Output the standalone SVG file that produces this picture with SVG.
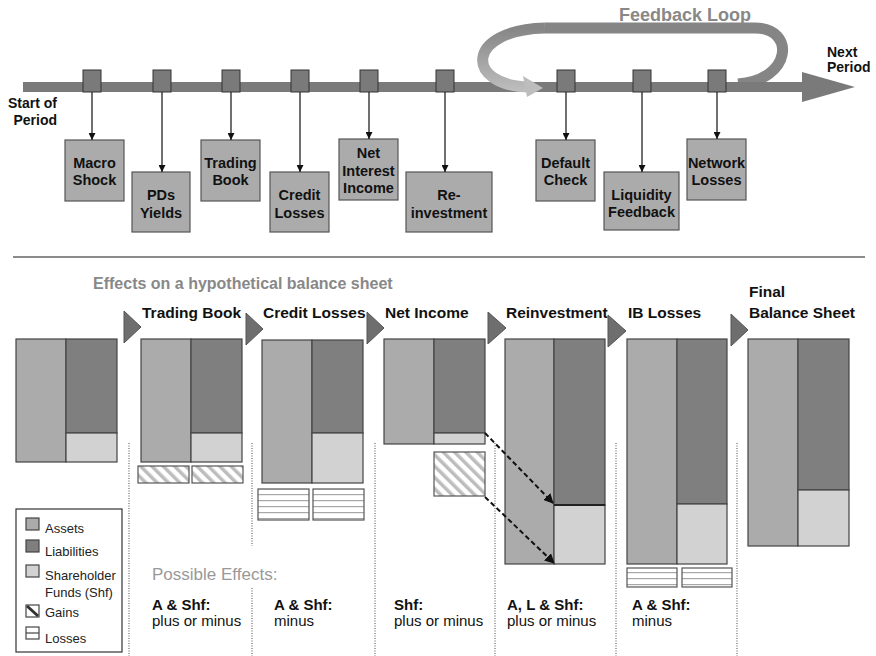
<svg xmlns="http://www.w3.org/2000/svg" width="876" height="656" viewBox="0 0 876 656">
<style>
.bar{fill:#7a7a7a}
.sq{fill:#7a7a7a;stroke:#333;stroke-width:1}
.box{fill:#ababab;stroke:#555;stroke-width:1.2}
.bt{font-family:"Liberation Sans",Arial,sans-serif;font-weight:bold;font-size:14.5px;fill:#111;text-anchor:middle}
.lbl{font-family:"Liberation Sans",Arial,sans-serif;font-weight:bold;font-size:14px;fill:#111}
.step{font-family:"Liberation Sans",Arial,sans-serif;font-weight:bold;font-size:15.5px;fill:#111}
.conn{stroke:#222;stroke-width:1.3;fill:none}
.as{fill:#ababab;stroke:#444;stroke-width:1.2}
.li{fill:#7f7f7f;stroke:#444;stroke-width:1.2}
.sh{fill:#d2d2d2;stroke:#444;stroke-width:1.2}
.gain{fill:url(#hatch);stroke:#555;stroke-width:1.2}
.loss{fill:url(#hlines);stroke:#555;stroke-width:1.2}
.dot{stroke:#888;stroke-width:1.5;stroke-dasharray:1 1.5;fill:none}
.tri{fill:#6e6e6e;stroke:#555;stroke-width:1}
.leg{font-family:"Liberation Sans",Arial,sans-serif;font-size:13px;fill:#222}
.eb{font-family:"Liberation Sans",Arial,sans-serif;font-weight:bold;font-size:15px;fill:#111}
.er{font-family:"Liberation Sans",Arial,sans-serif;font-size:15px;fill:#111}
.dash{stroke:#111;stroke-width:2;stroke-dasharray:5 3;fill:none}
</style>
<defs>
<marker id="ah" viewBox="0 0 10 10" refX="10" refY="5" markerWidth="7" markerHeight="7" markerUnits="userSpaceOnUse" orient="auto">
<path d="M0,0 L10,5 L0,10 z" fill="#111"/>
</marker>
<marker id="ah2" viewBox="0 0 10 10" refX="9" refY="5" markerWidth="10" markerHeight="10" markerUnits="userSpaceOnUse" orient="auto">
<path d="M0,0 L10,5 L0,10 z" fill="#111"/>
</marker>
<pattern id="hatch" patternUnits="userSpaceOnUse" width="8" height="8" patternTransform="rotate(-45)">
<rect width="8" height="8" fill="#fff"/>
<rect width="3.5" height="8" fill="#bdbdbd"/>
</pattern>
<pattern id="hlines" patternUnits="userSpaceOnUse" width="8" height="6">
<rect width="8" height="6" fill="#fff"/>
<rect y="2" width="8" height="1.2" fill="#a8a8a8"/>
</pattern>
<linearGradient id="lg" gradientUnits="userSpaceOnUse" x1="0" y1="28" x2="0" y2="90">
<stop offset="0" stop-color="#868686"/>
<stop offset="1" stop-color="#bdbdbd"/>
</linearGradient>
</defs>

<g id="feedback-loop-back">
<path d="M545,28 L755,28 C796,28 792,80 738,84" fill="none" stroke="#858585" stroke-width="11"/>
</g>

<g id="timeline">
<rect class="bar" x="23" y="82" width="782" height="10"/>
<polygon class="bar" points="802,72 855,87 802,102"/>
</g>

<g id="feedback-loop-front">
<path d="M545,28 C465,30 465,85 528,87" fill="none" stroke="url(#lg)" stroke-width="11"/>
<polygon points="523,76 543,88 527,97" fill="#bdbdbd"/>
<text x="685" y="21" text-anchor="middle" font-family="Liberation Sans, Arial, sans-serif" font-weight="bold" font-size="18" fill="#888">Feedback Loop</text>
</g>

<g id="labels">
<text class="lbl" x="57" y="108" text-anchor="end">Start of</text>
<text class="lbl" x="57" y="125" text-anchor="end">Period</text>
<text class="lbl" x="827" y="57">Next</text>
<text class="lbl" x="827" y="72">Period</text>
</g>

<g id="markers">
<rect class="sq" x="83" y="70" width="18" height="22"/>
<rect class="sq" x="153" y="70" width="18" height="22"/>
<rect class="sq" x="222" y="70" width="18" height="22"/>
<rect class="sq" x="291" y="70" width="18" height="22"/>
<rect class="sq" x="360" y="70" width="18" height="22"/>
<rect class="sq" x="436" y="70" width="18" height="22"/>
<rect class="sq" x="557" y="70" width="18" height="22"/>
<rect class="sq" x="633" y="70" width="18" height="22"/>
<rect class="sq" x="708" y="70" width="18" height="22"/>
</g>

<g id="macro-shock">
<rect class="box" x="65" y="140" width="59" height="61"/>
<text class="bt" x="94.5" y="168">Macro</text>
<text class="bt" x="94.5" y="185">Shock</text>
</g>
<g id="pds-yields">
<rect class="box" x="132" y="172" width="58" height="60"/>
<text class="bt" x="161" y="200">PDs</text>
<text class="bt" x="161" y="218">Yields</text>
</g>
<g id="trading-book">
<rect class="box" x="201" y="140" width="59" height="61"/>
<text class="bt" x="230.5" y="168">Trading</text>
<text class="bt" x="230.5" y="185">Book</text>
</g>
<g id="credit-losses">
<rect class="box" x="270" y="172" width="59" height="60"/>
<text class="bt" x="299.5" y="200">Credit</text>
<text class="bt" x="299.5" y="218">Losses</text>
</g>
<g id="net-interest-income">
<rect class="box" x="339" y="139" width="59" height="61"/>
<text class="bt" x="368.5" y="158">Net</text>
<text class="bt" x="368.5" y="176">Interest</text>
<text class="bt" x="368.5" y="193">Income</text>
</g>
<g id="reinvestment">
<rect class="box" x="406" y="172" width="86" height="60"/>
<text class="bt" x="449" y="200">Re-</text>
<text class="bt" x="449" y="218">investment</text>
</g>
<g id="default-check">
<rect class="box" x="536" y="140" width="59" height="61"/>
<text class="bt" x="565.5" y="168">Default</text>
<text class="bt" x="565.5" y="185">Check</text>
</g>
<g id="liquidity-feedback">
<rect class="box" x="604" y="172" width="75" height="58"/>
<text class="bt" x="641.5" y="200">Liquidity</text>
<text class="bt" x="641.5" y="217">Feedback</text>
</g>
<g id="network-losses">
<rect class="box" x="687" y="139" width="59" height="61"/>
<text class="bt" x="716.5" y="168">Network</text>
<text class="bt" x="716.5" y="185">Losses</text>
</g>

<line x1="13" y1="257" x2="865" y2="257" stroke="#666" stroke-width="1.5"/>
<text x="93" y="289" font-family="Liberation Sans, Arial, sans-serif" font-weight="bold" font-size="16" fill="#888">Effects on a hypothetical balance sheet</text>

<g id="step-titles">
<text class="step" x="142" y="318">Trading Book</text>
<text class="step" x="263" y="318">Credit Losses</text>
<text class="step" x="385" y="318">Net Income</text>
<text class="step" x="506" y="318">Reinvestment</text>
<text class="step" x="628" y="318">IB Losses</text>
<text class="step" x="749" y="297">Final</text>
<text class="step" x="749" y="318">Balance Sheet</text>
<polygon class="tri" points="124,311 141,327 124,343"/>
<polygon class="tri" points="246,313 263,329 246,345"/>
<polygon class="tri" points="367,312 384,328 367,344"/>
<polygon class="tri" points="488,312 506,328 488,344"/>
<polygon class="tri" points="608,315 626,331 608,347"/>
<polygon class="tri" points="731,314 748,330 731,346"/>
</g>

<g id="dividers">
<line class="dot" x1="129" y1="443" x2="129" y2="656"/>
<line class="dot" x1="252" y1="443" x2="252" y2="546"/>
<line class="dot" x1="252" y1="588" x2="252" y2="656"/>
<line class="dot" x1="375" y1="443" x2="375" y2="656"/>
<line class="dot" x1="495" y1="443" x2="495" y2="656"/>
<line class="dot" x1="616" y1="443" x2="616" y2="656"/>
<line class="dot" x1="737" y1="443" x2="737" y2="656"/>
</g>

<g id="bs-initial">
<rect class="as" x="16" y="339" width="50" height="123"/>
<rect class="li" x="66" y="339" width="51" height="94"/>
<rect class="sh" x="66" y="433" width="51" height="29"/>
</g>
<g id="bs-trading-book">
<rect class="as" x="141" y="339" width="50" height="123"/>
<rect class="li" x="191" y="339" width="51" height="94"/>
<rect class="sh" x="191" y="433" width="51" height="29"/>
<rect class="gain" x="138" y="466" width="51" height="17"/>
<rect class="gain" x="192" y="466" width="51" height="17"/>
</g>
<g id="bs-credit-losses">
<rect class="as" x="262" y="340" width="50" height="143"/>
<rect class="li" x="312" y="340" width="51" height="93"/>
<rect class="sh" x="312" y="433" width="51" height="50"/>
<rect class="loss" x="258" y="489" width="51" height="31"/>
<rect class="loss" x="313" y="489" width="51" height="31"/>
</g>
<g id="bs-net-income">
<rect class="as" x="384" y="339" width="50" height="105"/>
<rect class="li" x="434" y="339" width="51" height="94"/>
<rect class="sh" x="434" y="433" width="51" height="11"/>
<rect class="gain" x="434" y="452" width="51" height="44"/>
</g>
<g id="bs-reinvestment">
<rect class="as" x="505" y="339" width="49" height="225"/>
<rect class="li" x="554" y="339" width="51" height="166"/>
<rect class="sh" x="554" y="505" width="51" height="59"/>
<line x1="554" y1="505" x2="605" y2="505" stroke="#222" stroke-width="2.2"/>
</g>
<g id="bs-ib-losses">
<rect class="as" x="627" y="339" width="50" height="225"/>
<rect class="li" x="677" y="339" width="50" height="165"/>
<rect class="sh" x="677" y="504" width="50" height="60"/>
<rect class="loss" x="627" y="568" width="50" height="19"/>
<rect class="loss" x="682" y="568" width="50" height="19"/>
</g>
<g id="bs-final">
<rect class="as" x="748" y="339" width="50" height="207"/>
<rect class="li" x="798" y="339" width="51" height="151"/>
<rect class="sh" x="798" y="490" width="51" height="56"/>
</g>

<g id="legend">
<rect x="16" y="509" width="106" height="143" fill="#fff" stroke="#333" stroke-width="1.2"/>
<rect class="as" x="26" y="518" width="13" height="12"/>
<text class="leg" x="45" y="533">Assets</text>
<rect class="li" x="26" y="540" width="13" height="12"/>
<text class="leg" x="45" y="556">Liabilities</text>
<rect class="sh" x="26" y="565" width="13" height="12"/>
<text class="leg" x="45" y="580">Shareholder</text>
<text class="leg" x="45" y="597">Funds (Shf)</text>
<rect x="26" y="605" width="13" height="12" fill="#fff" stroke="#444" stroke-width="1.2"/>
<line x1="27" y1="606" x2="38" y2="616" stroke="#333" stroke-width="3"/>
<text class="leg" x="45" y="617">Gains</text>
<rect x="26" y="627" width="13" height="12" fill="#fff" stroke="#444" stroke-width="1.2"/>
<line x1="26" y1="633" x2="39" y2="633" stroke="#444" stroke-width="1.2"/>
<text class="leg" x="45" y="643">Losses</text>
</g>

<g id="effects">
<text x="152" y="580" font-family="Liberation Sans, Arial, sans-serif" font-size="17" fill="#999">Possible Effects:</text>
<text class="eb" x="152" y="610">A &amp; Shf:</text>
<text class="er" x="152" y="626">plus or minus</text>
<text class="eb" x="274" y="610">A &amp; Shf:</text>
<text class="er" x="274" y="626">minus</text>
<text class="eb" x="394" y="610">Shf:</text>
<text class="er" x="394" y="626">plus or minus</text>
<text class="eb" x="507" y="610">A, L &amp; Shf:</text>
<text class="er" x="507" y="626">plus or minus</text>
<text class="eb" x="632" y="610">A &amp; Shf:</text>
<text class="er" x="632" y="626">minus</text>
</g>

<g id="connectors">
<line class="conn" x1="92" y1="92" x2="92" y2="140" marker-end="url(#ah)"/>
<line class="conn" x1="162" y1="92" x2="162" y2="172" marker-end="url(#ah)"/>
<line class="conn" x1="231" y1="92" x2="231" y2="140" marker-end="url(#ah)"/>
<line class="conn" x1="300" y1="92" x2="300" y2="172" marker-end="url(#ah)"/>
<line class="conn" x1="369" y1="92" x2="369" y2="139" marker-end="url(#ah)"/>
<line class="conn" x1="445" y1="92" x2="445" y2="172" marker-end="url(#ah)"/>
<line class="conn" x1="566" y1="92" x2="566" y2="140" marker-end="url(#ah)"/>
<line class="conn" x1="642" y1="92" x2="642" y2="172" marker-end="url(#ah)"/>
<line class="conn" x1="717" y1="92" x2="717" y2="139" marker-end="url(#ah)"/>
<line class="dash" x1="485" y1="433" x2="553" y2="503" marker-end="url(#ah2)"/>
<line class="dash" x1="485" y1="497" x2="554" y2="563" marker-end="url(#ah2)"/>
</g>
</svg>
